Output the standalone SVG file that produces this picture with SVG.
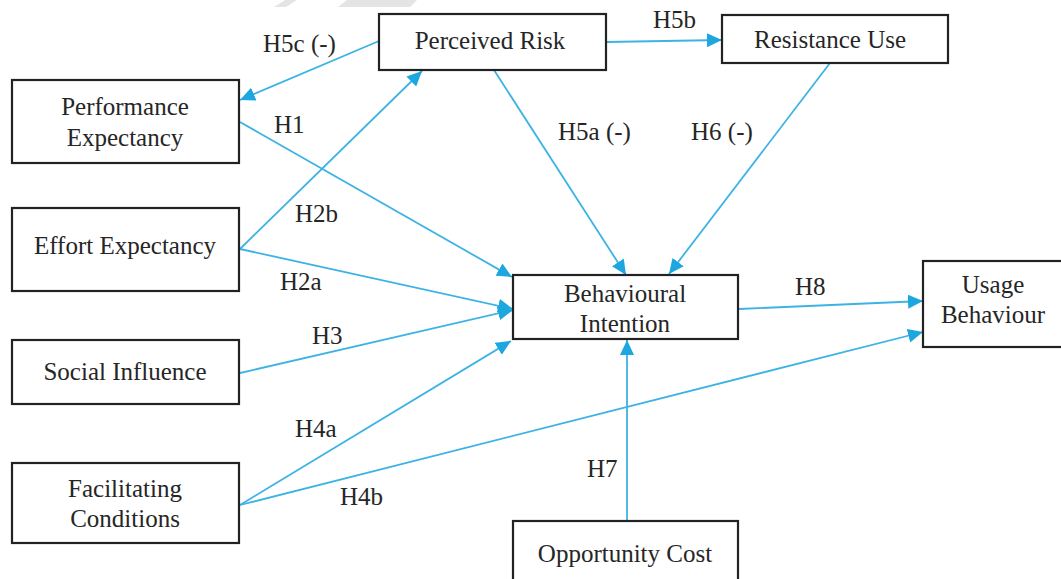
<svg xmlns="http://www.w3.org/2000/svg" width="1061" height="579" viewBox="0 0 1061 579" font-family="Liberation Serif, Times New Roman, serif">
<style>
.box{fill:#fff;stroke:#222;stroke-width:2.2}
text{font-family:Liberation Serif,Times New Roman,serif;font-size:25px;fill:#262626}
.t{text-anchor:middle}
.c{fill:none;stroke:#3db3e5;stroke-width:1.8}
.wm{fill:#e4e4e4}
</style>
<defs>
<marker id="ah" markerUnits="userSpaceOnUse" markerWidth="16" markerHeight="14" refX="15" refY="7" orient="auto">
<path d="M0,0 L15,7 L0,14 z" fill="#1ea7df"/>
</marker>
</defs>
<rect width="1061" height="579" fill="#fff"/>
<g id="watermark">
<polygon class="wm" points="285,0 297,0 286,7 274,7"/>
<polygon class="wm" points="347,0 417,0 410,7 338,7"/>
</g>
<g id="connectors">
<line class="c" x1="379" y1="41" x2="240" y2="100" marker-end="url(#ah)"/>
<line class="c" x1="606" y1="42" x2="722" y2="40" marker-end="url(#ah)"/>
<line class="c" x1="240" y1="249" x2="422" y2="71" marker-end="url(#ah)"/>
<line class="c" x1="240" y1="122" x2="512" y2="277" marker-end="url(#ah)"/>
<line class="c" x1="240" y1="249" x2="513" y2="309" marker-end="url(#ah)"/>
<line class="c" x1="240" y1="373" x2="513" y2="310" marker-end="url(#ah)"/>
<line class="c" x1="240" y1="505" x2="511" y2="341" marker-end="url(#ah)"/>
<line class="c" x1="240" y1="505" x2="923" y2="332" marker-end="url(#ah)"/>
<line class="c" x1="494" y1="70" x2="626" y2="275" marker-end="url(#ah)"/>
<line class="c" x1="830" y1="63" x2="669" y2="274" marker-end="url(#ah)"/>
<line class="c" x1="739" y1="309" x2="923" y2="301" marker-end="url(#ah)"/>
<line class="c" x1="627" y1="521" x2="627" y2="340" marker-end="url(#ah)"/>
</g>
<g id="labels" font-family="Liberation Serif" font-size="25" fill="#262626">
<text x="263" y="52" font-family="Liberation Serif">H5c (-)</text>
<text x="653" y="28" font-family="Liberation Serif">H5b</text>
<text x="274" y="133" font-family="Liberation Serif">H1</text>
<text x="558" y="140" font-family="Liberation Serif">H5a (-)</text>
<text x="691" y="140" font-family="Liberation Serif">H6 (-)</text>
<text x="295" y="222" font-family="Liberation Serif">H2b</text>
<text x="280" y="290" font-family="Liberation Serif">H2a</text>
<text x="312" y="344" font-family="Liberation Serif">H3</text>
<text x="295" y="437" font-family="Liberation Serif">H4a</text>
<text x="340" y="505" font-family="Liberation Serif">H4b</text>
<text x="587" y="477" font-family="Liberation Serif">H7</text>
<text x="795" y="295" font-family="Liberation Serif">H8</text>
</g>
<g id="perceived-risk">
<rect class="box" x="379" y="14" width="227" height="56"/>
<text class="t" x="490" y="49">Perceived Risk</text>
</g>
<g id="resistance-use">
<rect class="box" x="722" y="15" width="226" height="48"/>
<text class="t" x="830" y="48">Resistance Use</text>
</g>
<g id="performance-expectancy">
<rect class="box" x="12" y="80" width="227" height="83"/>
<text class="t" x="125" y="115">Performance</text>
<text class="t" x="125" y="146">Expectancy</text>
</g>
<g id="effort-expectancy">
<rect class="box" x="12" y="208" width="227" height="83"/>
<text class="t" x="125" y="254">Effort Expectancy</text>
</g>
<g id="social-influence">
<rect class="box" x="12" y="340" width="227" height="64"/>
<text class="t" x="125" y="380">Social Influence</text>
</g>
<g id="facilitating-conditions">
<rect class="box" x="12" y="463" width="227" height="80"/>
<text class="t" x="125" y="497">Facilitating</text>
<text class="t" x="125" y="527">Conditions</text>
</g>
<g id="behavioural-intention">
<rect class="box" x="513" y="275" width="225" height="64"/>
<text class="t" x="625" y="302">Behavioural</text>
<text class="t" x="625" y="332">Intention</text>
</g>
<g id="usage-behaviour">
<rect class="box" x="923" y="261" width="145" height="86"/>
<text class="t" x="993" y="293">Usage</text>
<text class="t" x="993" y="323">Behaviour</text>
</g>
<g id="opportunity-cost">
<rect class="box" x="513" y="521" width="225" height="70"/>
<text class="t" x="625" y="562">Opportunity Cost</text>
</g>
</svg>
